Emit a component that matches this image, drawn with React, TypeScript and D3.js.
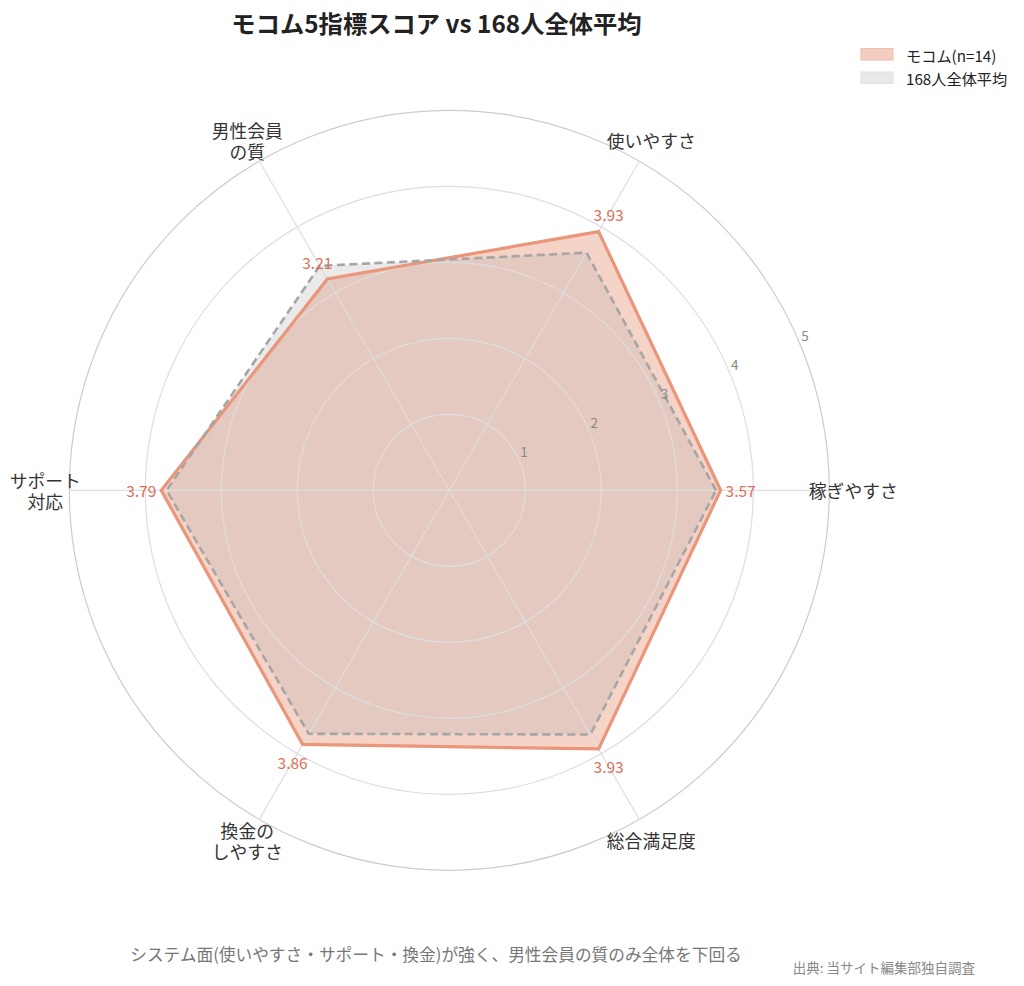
import * as d3 from "d3"

const categories = ["稼ぎやすさ", "使いやすさ", "男性会員\nの質", "サポート\n対応", "換金の\nしやすさ", "総合満足度"]
const mocomScores = [3.57, 3.93, 3.21, 3.79, 3.86, 3.93]
const averageScores = [3.51, 3.61, 3.41, 3.72, 3.7, 3.71]
const radialTicks = [1, 2, 3, 4, 5]
const seriesNames = ["モコム(n=14)", "168人全体平均"]

const W = 1024
const H = 986
const cx = 449.3
const cy = 490.3
const FONT = "'Noto Sans CJK JP', 'Noto Sans', sans-serif"

export default function App() {
  const r = d3.scaleLinear().domain([0, 5]).range([0, 380])
  const n = categories.length
  // screen angle, counter-clockwise from 3 o'clock
  const theta = (i: number) => (i * 2 * Math.PI) / n
  const pt = (i: number, rad: number): [number, number] => [
    cx + Math.cos(theta(i)) * rad,
    cy - Math.sin(theta(i)) * rad,
  ]

  const radial = d3
    .lineRadial<number>()
    .angle((_, i) => Math.PI / 2 - theta(i))
    .radius((d) => r(d))
    .curve(d3.curveLinearClosed)

  const tickAngle = (22.5 * Math.PI) / 180

  return (
    <svg
      width={W}
      height={H}
      style={{ position: "absolute", left: 0, top: 0, background: "#fff" }}
      fontFamily={FONT}
    >
      <text x={436.5} y={22} textAnchor="middle" dominantBaseline="central" fontSize={24.3} fontWeight={700} fill="#222">
        モコム5指標スコア vs 168人全体平均
      </text>

      {/* series */}
      <g transform={`translate(${cx},${cy})`}>
        <path d={radial(mocomScores) ?? ""} fill="#E9967A" fillOpacity={0.42} stroke="none" />
        <path d={radial(averageScores) ?? ""} fill="#aaaaaa" fillOpacity={0.25} stroke="none" />
      </g>

      {/* grid */}
      <g fill="none">
        {radialTicks.map((t) => (
          <circle key={t} cx={cx} cy={cy} r={r(t)} stroke={t === 5 ? "#cccccc" : "#dedede"} strokeWidth={1.2} />
        ))}
        {categories.map((_, i) => {
          const [x, y] = pt(i, r(5))
          return <line key={i} x1={cx} y1={cy} x2={x} y2={y} stroke="#dedede" strokeWidth={1.2} />
        })}
      </g>

      <g transform={`translate(${cx},${cy})`} fill="none">
        <path d={radial(mocomScores) ?? ""} stroke="#E9967A" strokeWidth={3.2} />
        <path d={radial(averageScores) ?? ""} stroke="#a6a6a6" strokeWidth={2.6} strokeDasharray="8,4.5" />
      </g>

      {/* radial tick labels */}
      {radialTicks.map((t) => (
        <text
          key={t}
          x={cx + Math.cos(tickAngle) * r(t) + 4.6}
          y={cy - Math.sin(tickAngle) * r(t) - 10}
          textAnchor="middle"
          dominantBaseline="central"
          fontSize={13.5}
          fill="#888"
        >
          {t}
        </text>
      ))}

      {/* value labels */}
      {mocomScores.map((v, i) => {
        const [x, y] = pt(i, r(v) + 20)
        return (
          <text key={i} x={x} y={y} textAnchor="middle" dominantBaseline="central" fontSize={15.5} fill="#d9705c">
            {v.toFixed(2)}
          </text>
        )
      })}

      {/* axis labels */}
      {categories.map((c, i) => {
        const [x, y] = pt(i, 404)
        const lines = c.split("\n")
        const lh = 21
        return lines.map((ln, k) => (
          <text
            key={`${i}-${k}`}
            x={x}
            y={y + (k - (lines.length - 1) / 2) * lh}
            textAnchor="middle"
            dominantBaseline="central"
            fontSize={17.8}
            fill="#333"
          >
            {ln}
          </text>
        ))
      })}

      {/* legend */}
      <g>
        <rect x={861} y={48.5} width={32} height={11.5} fill="#f5cdc0" stroke="#efbfae" strokeWidth={1} />
        <text x={906} y={54.5} dominantBaseline="central" fontSize={15.2} fill="#222">
          {seriesNames[0]}
        </text>
        <rect x={861} y={72} width={32} height={11.5} fill="#e9e9e9" stroke="#e0e0e0" strokeWidth={1} />
        <text x={906} y={77.5} dominantBaseline="central" fontSize={15.2} fill="#222">
          {seriesNames[1]}
        </text>
      </g>

      <text x={436} y={954} textAnchor="middle" dominantBaseline="central" fontSize={16.7} fill="#777">
        システム面(使いやすさ・サポート・換金)が強く、男性会員の質のみ全体を下回る
      </text>
      <text x={975} y={967} textAnchor="end" dominantBaseline="central" fontSize={13.5} fill="#888">
        出典: 当サイト編集部独自調査
      </text>
    </svg>
  )
}
